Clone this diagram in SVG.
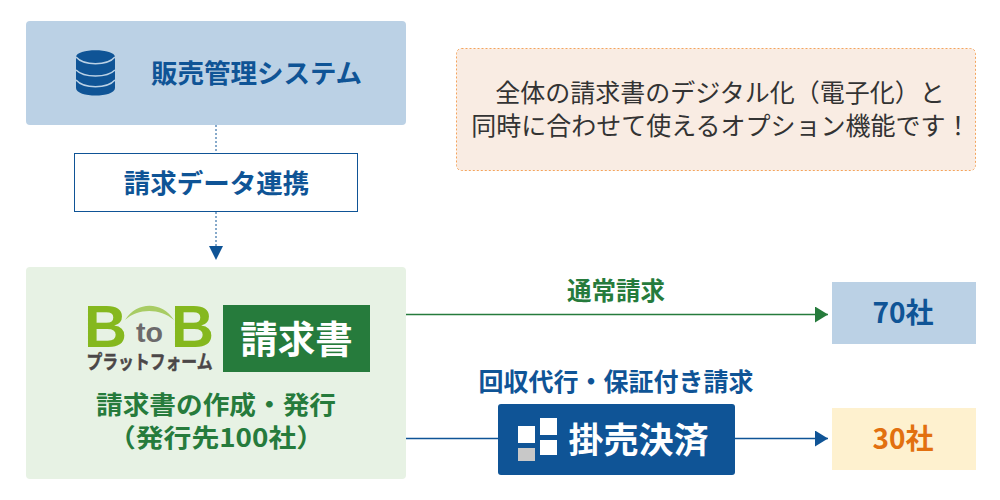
<svg xmlns="http://www.w3.org/2000/svg" width="1000" height="500" viewBox="0 0 1000 500">
<style>
text{font-family:"Noto Sans CJK JP","Noto Sans",sans-serif;font-weight:700;text-anchor:middle}
.blue{fill:#0f5496}.green{fill:#267b3c}
.dot{stroke:#0f5496;stroke-width:1;stroke-dasharray:2 2;fill:none}
.latin{font-family:"Liberation Sans",sans-serif;font-weight:700}
.arc{stroke:#bbd1e5;stroke-width:1.500;fill:none}
</style>
<defs>
<marker id="ab" markerUnits="userSpaceOnUse" markerWidth="13" markerHeight="16" refX="13" refY="8" orient="auto"><path d="M0 0L13 8L0 16Z" fill="#0f5496"/></marker>
<marker id="ag" markerUnits="userSpaceOnUse" markerWidth="13" markerHeight="16" refX="13" refY="8" orient="auto"><path d="M0 0L13 8L0 16Z" fill="#267b3c"/></marker>
</defs>
<rect width="1000" height="500" fill="#fff"/>
<g id="connectors">
<path class="dot" d="M216 125V153"/>
<path class="dot" d="M216 212V246"/>
<path d="M209 246H223L216 260Z" fill="#0f5496"/>
<path d="M406 314.500H828" stroke="#267b3c" stroke-width="1.500" fill="none" marker-end="url(#ag)"/>
<path d="M406 438.500H828" stroke="#0f5496" stroke-width="1.500" fill="none" marker-end="url(#ab)"/>
</g>
<g id="sales-system">
<rect x="26" y="21" width="380" height="104" rx="4" fill="#bbd1e5"/>
<path d="M76 57C76 48 115 48 115 57V88C115 98 76 98 76 88Z" class="blue"/>
<path class="arc" d="M76 57C84 66 107 66 115 57"/>
<path class="arc" d="M76 70C84 78 107 78 115 70"/>
<path class="arc" d="M76 80C84 89 107 89 115 80"/>
<text x="256.500" y="83" font-size="26.500" class="blue">販売管理システム</text>
</g>
<g id="data-link">
<rect x="74.500" y="153.500" width="283" height="58" fill="#fff" stroke="#0f5496"/>
<text x="216.500" y="193" font-size="26.500" class="blue">請求データ連携</text>
</g>
<g id="note">
<rect x="456.500" y="48.500" width="519" height="122" rx="5" fill="#f9ece3" stroke="#f4a45c" stroke-dasharray="2 2"/>
<text x="720" y="102" font-size="25" fill="#333" style="font-weight:400">全体の請求書のデジタル化（電子化）と</text>
<text x="721" y="135" font-size="25" fill="#333" style="font-weight:400">同時に合わせて使えるオプション機能です！</text>
</g>
<g id="invoice">
<rect x="26" y="267" width="380" height="212" rx="4" fill="#e7f2e4"/>
<text x="105.500" y="347" font-size="60" fill="#85b81e" class="latin" textLength="43" lengthAdjust="spacingAndGlyphs">B</text>
<text x="192.500" y="347" font-size="60" fill="#85b81e" class="latin" textLength="43" lengthAdjust="spacingAndGlyphs">B</text>
<text x="149.500" y="342" font-size="27" fill="#6c6a6b" class="latin" textLength="27" lengthAdjust="spacingAndGlyphs">to</text>
<path d="M125 320C137 301 162 301 174 320C160 308 138 308 125 320Z" fill="#a8cc64"/>
<text x="149.500" y="369" font-size="19" fill="#4b4748" stroke="#4b4748" stroke-width=".500" textLength="126" lengthAdjust="spacingAndGlyphs">プラットフォーム</text>
<rect x="223" y="305" width="147" height="67" fill="#267b3c"/>
<text x="296.500" y="353" font-size="37.500" fill="#fff">請求書</text>
<text x="216" y="414" font-size="25.500" class="green" textLength="240" lengthAdjust="spacingAndGlyphs">請求書の作成・発行</text>
<text x="216" y="447" font-size="25.500" class="green" textLength="216" lengthAdjust="spacingAndGlyphs">（発行先100社）</text>
</g>
<g id="normal-label"><text x="616" y="300" font-size="24.500" class="green">通常請求</text></g>
<g id="factoring-label"><text x="616" y="391" font-size="25" class="blue">回収代行・保証付き請求</text></g>
<g id="factoring">
<rect x="498" y="404" width="237" height="71" rx="3" fill="#0f5496"/>
<rect x="518" y="426" width="17" height="17" fill="#fff"/>
<rect x="518" y="448" width="17" height="13" fill="#c8c8c8"/>
<rect x="540" y="418" width="17" height="17" fill="#fff"/>
<rect x="540" y="440" width="17" height="15" fill="#fff"/>
<text x="638.500" y="453" font-size="35" fill="#fff">掛売決済</text>
</g>
<g id="count-70">
<rect x="832" y="282" width="144" height="62" fill="#bbd1e5"/>
<text x="903" y="323" font-size="28" class="blue">70社</text>
</g>
<g id="count-30">
<rect x="832" y="408" width="144" height="62" fill="#fef1cf"/>
<text x="903" y="449" font-size="28" fill="#e2700f">30社</text>
</g>
</svg>
